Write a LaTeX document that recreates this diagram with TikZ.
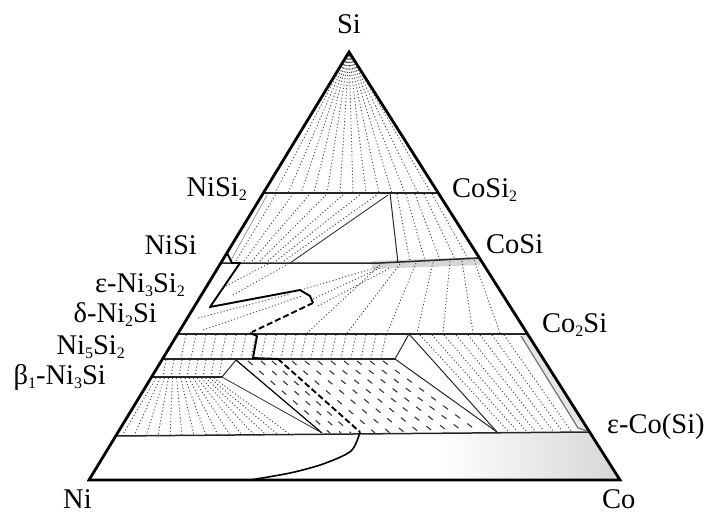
\documentclass[tikz,border=0pt]{standalone}
\usepackage{fontspec}
\setmainfont{Liberation Serif}
\newcommand{\lsub}[1]{\raisebox{-4.8pt}{\fontsize{16}{16}\selectfont #1}}
\begin{document}
\begin{tikzpicture}[x=1pt,y=-1pt,
  frame/.style={line width=2.8pt, line join=miter},
  phase/.style={line width=1.5pt, black!85},
  tie/.style={line width=0.9pt, black!72, dash pattern=on 1.1pt off 2.2pt},
  dtie/.style={line width=1.1pt, black!78, dash pattern=on 6pt off 9pt},
  edge3/.style={line width=1pt, black!85},
  bold/.style={line width=1.9pt, line join=round},
  bolddash/.style={line width=1.9pt, dash pattern=on 6pt off 3pt},
  lab/.style={inner sep=0pt, font=\fontsize{28.5}{30}\selectfont}]
\useasboundingbox (0,0) rectangle (710,514);
\coordinate (Si) at (349,52);
\coordinate (Ni) at (89,480);
\coordinate (Co) at (620,480);
% gray stippled areas
\shade[left color=white, right color=black!16] (440,434) -- (589.6,432) -- (Co) -- (440,480) -- cycle;
\fill[black!10] (521,336) -- (527.6,334) -- (589.6,432) -- (578,428) -- cycle;
\draw[black!16, line width=8pt] (372,265) -- (480,261);
% tie lines from Si
\foreach \x in {275,288,...,431} \draw[tie] (Si) -- (\x,193);
% NiSi2 + NiSi region
\foreach \i in {0,...,6} \draw[tie] ({236+8*\i},261) -- ({276+17*\i},194);
\foreach \a/\b in {397/410,406/425,415/440,424/455,432/468} \draw[tie] (\a,194) -- (\b,{263-(\b-380)*0.05});
% CoSi to Co2Si fan
\foreach \a/\b in {380/307,400/347,416/387,433/417,450/443,462/473,474/500} \draw[tie] (\a,{265-(\a-380)*0.05}) -- (\b,333);
\draw[tie] (233,295) -- (288,264);
\draw[tie] (226,286) -- (268,264);
\draw[tie] (304,289) -- (378,267);
\draw[tie] (313,299) -- (382,267);
\draw[tie] (318,306) -- (390,268);
\draw[tie] (203,330) -- (302,296);
\draw[tie] (198,318) -- (290,294);
% strips
\foreach \x in {186,196,...,386} \draw[tie] (\x,335) -- ({\x-5},358);
\foreach \x in {166,174,...,222} \draw[tie] (\x,360) -- ({\x-3},376);
\foreach \i in {0,...,14} \draw[tie] ({156+62*\i/15},378) -- ({122+180*\i/15},{436-(122+180*\i/15-116)*0.0084});
% Ni-side triangle
\draw[edge3] (222,377) -- (236,360);
\draw[line width=1.2pt] (236,360) -- (322,433);
\draw[line width=0.8pt, black!80] (222,377) -- (322,433);
% dashed tie lines
\foreach \a/\b in {248/330,261/341,272/351} \draw[dtie] (\a,361) -- (\b,433);
\foreach \i in {0,...,7} \draw[dtie] ({292+13*\i},361) -- ({375+15*\i},433);
% Co-side triangle
\draw[edge3] (395,359) -- (409,334);
\draw[edge3] (395,359) -- (497,432);
\draw[edge3] (409,334) -- (497,432);
\foreach \i in {0,...,7} \draw[tie] ({420+12*\i},335) -- ({508+9*\i},431);
% phase boundaries
\draw[phase] (263.3,193) -- (438.3,193);
\draw[phase] (220.8,263) -- (380,263) -- (479.4,258);
\draw[phase] (177.7,334) -- (527.6,334);
\draw[phase] (162.5,359) -- (395,359);
\draw[phase] (151.6,377) -- (222,377);
\draw[phase] (115.7,436) -- (589.6,432);
\draw[line width=1.2pt, black!55] (521,336) -- (578,428) -- (589.6,432);
\draw[line width=0.9pt, black!80] (290,263) -- (388,195);
\draw[edge3] (390,193) -- (398,263);
\draw[line width=0.6pt, black!50] (230,262) -- (267,195);
% bold boundary
\draw[bold] (227,253) -- (232,263) -- (240,263) -- (210,307) -- (300,290) -- (310,296) -- (313,303);
\draw[bolddash] (313,303) -- (252,332);
\draw[bold] (250,333) -- (257,336) -- (253,358) -- (278,359);
\draw[bolddash] (278,359) -- (360,432);
\draw[bold, line width=1.6pt] plot[smooth] coordinates {(360,432) (351,451) (323,464) (290,473) (250,480)};
% frame
\draw[frame] (Si) -- (Ni) -- (Co) -- cycle;
% labels
\node[lab, anchor=base] (lSi) at (349,34) {Si};
\node[lab, anchor=base east] (lNiSi2) at (247,196) {NiSi\lsub{2}};
\node[lab, anchor=base east] (lNiSi) at (197,254) {NiSi};
\node[lab, anchor=base east] (leps) at (185,292) {ε-Ni\lsub{3}Si\lsub{2}};
\node[lab, anchor=base east] (ldelta) at (157,322) {δ-Ni\lsub{2}Si};
\node[lab, anchor=base east] (lNifive) at (125,354) {Ni\lsub{5}Si\lsub{2}};
\node[lab, anchor=base east] (lbeta) at (106,384) {β\lsub{1}-Ni\lsub{3}Si};
\node[lab, anchor=base west] (lNi) at (63,508) {Ni};
\node[lab, anchor=base west] (lCo) at (602,508) {Co};
\node[lab, anchor=base west] (lCoSi2) at (452,197) {CoSi\lsub{2}};
\node[lab, anchor=base west] (lCoSi) at (486,253) {CoSi};
\node[lab, anchor=base west] (lCotwoSi) at (542,332) {Co\lsub{2}Si};
\node[lab, anchor=base west] (lepsCo) at (607,433) {ε-Co(Si)};
\end{tikzpicture}
\end{document}
